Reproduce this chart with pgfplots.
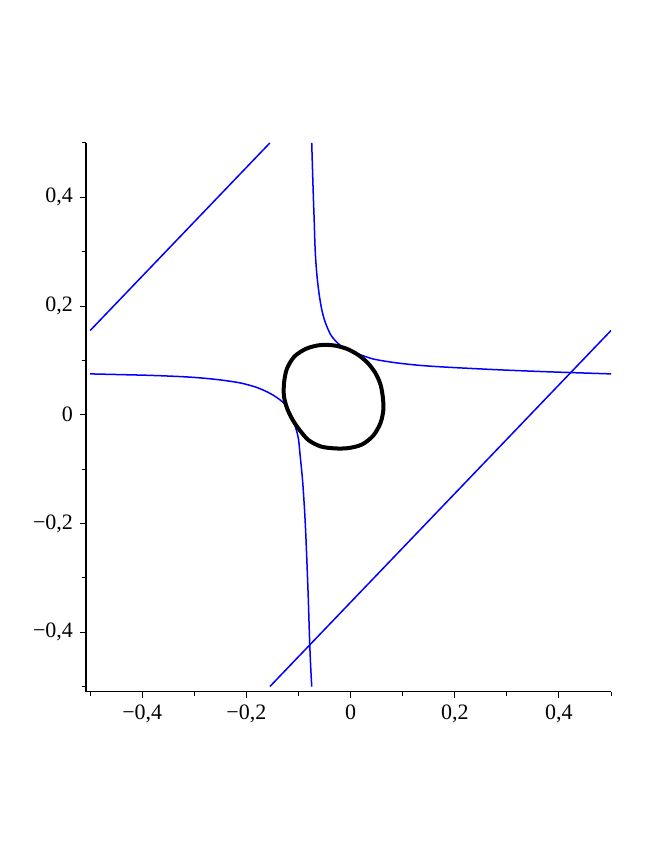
\documentclass[border=0pt]{standalone}
\usepackage{fontspec}
\setmainfont{Liberation Serif}
\usepackage{pgfplots}
\pgfplotsset{compat=1.18}

\begin{document}
\begin{tikzpicture}
  % page frame: 664x860 px at 0.5pt per px
  \path (0pt,0pt) rectangle (332pt,430pt);
  \begin{axis}[
    at={(43pt,84pt)}, anchor=south west,
    scale only axis,
    width=262.5pt, height=274.5pt,
    xmin=-0.508, xmax=0.5,
    ymin=-0.51, ymax=0.5,
    axis lines*=left,
    axis line style={line width=0.5pt},
    tick align=outside,
    tick style={black, line width=0.5pt},
    major tick length=3pt,
    minor tick length=2pt,
    xtick={-0.4,-0.2,0,0.2,0.4},
    ytick={-0.4,-0.2,0,0.2,0.4},
    xticklabels={{−0,4},{−0,2},{0},{0,2},{0,4}},
    yticklabels={{−0,4},{−0,2},{0},{0,2},{0,4}},
    minor xtick={-0.5,-0.3,-0.1,0.1,0.3,0.5},
    minor ytick={-0.5,-0.3,-0.1,0.1,0.3,0.5},
    ticklabel style={font=\fontsize{11}{13}\selectfont},
  ]
    % straight lines
    \addplot[blue, line width=0.75pt] coordinates {(-0.5,0.155) (-0.155,0.5)};
    \addplot[blue, line width=0.75pt] coordinates {(-0.155,-0.5) (0.5,0.155)};

    % upper-right branch
    \addplot[blue, line width=0.75pt, smooth] coordinates {
      (-0.0746,0.5) (-0.0731,0.4505) (-0.0715,0.4015) (-0.0698,0.3550)
      (-0.0683,0.3097) (-0.0663,0.2761) (-0.0638,0.2486) (-0.0600,0.2193)
      (-0.0554,0.1936) (-0.0510,0.1771) (-0.0458,0.1629) (-0.0385,0.1477)
      (-0.0298,0.1367) (-0.0183,0.1266) (-0.0048,0.1193) (0.0087,0.1141)
      (0.0279,0.1073) (0.0471,0.1018) (0.0856,0.0958) (0.1337,0.0908)
      (0.1913,0.0872) (0.2875,0.0826) (0.3837,0.0789) (0.5,0.0752)
    };

    % lower-left branch
    \addplot[blue, line width=0.75pt, smooth] coordinates {
      (-0.5,0.0752) (-0.4433,0.0739) (-0.3856,0.0725) (-0.3279,0.0703)
      (-0.2894,0.0679) (-0.2510,0.0642) (-0.2125,0.0587) (-0.1837,0.0514)
      (-0.1644,0.0440) (-0.1485,0.0360) (-0.1356,0.0275) (-0.1260,0.0193)
      (-0.1183,0.0083) (-0.1125,-0.0046) (-0.1077,-0.0174) (-0.1035,-0.0303)
      (-0.1000,-0.0450) (-0.0971,-0.0725) (-0.0942,-0.1000) (-0.0919,-0.1244)
      (-0.0885,-0.1734) (-0.0862,-0.2161) (-0.0837,-0.2743) (-0.0812,-0.3385)
      (-0.0788,-0.4119) (-0.0769,-0.4578) (-0.0746,-0.5)
    };

    % closed curve
    \addplot[black, line width=2pt, smooth cycle] coordinates {
      (-0.0317,0.1275) (-0.0072,0.1213) (0.0144,0.1102) (0.0327,0.0955)
      (0.0472,0.0774) (0.0571,0.0566) (0.0617,0.0339) (0.0630,0.0097)
      (0.0574,-0.0151) (0.0437,-0.0381) (0.0219,-0.0547) (-0.0050,-0.0614)
      (-0.0317,-0.0618) (-0.0576,-0.0582) (-0.0806,-0.0468) (-0.0974,-0.0287)
      (-0.1110,-0.0097) (-0.1216,0.0110) (-0.1279,0.0339) (-0.1278,0.0585)
      (-0.1225,0.0839) (-0.1082,0.1069) (-0.0848,0.1217) (-0.0582,0.1282)
    };
  \end{axis}
\end{tikzpicture}
\end{document}
